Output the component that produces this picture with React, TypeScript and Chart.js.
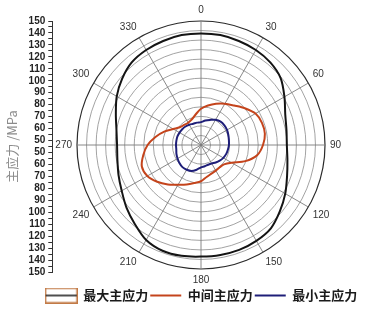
import React, { useEffect, useRef } from 'react';
import { Chart, registerables } from 'chart.js';

Chart.register(...registerables);

// angle categories (degrees, clockwise from top)
const angleLabels = [
  '0', '10', '20', '30', '40', '50', '60', '70', '80', '90', '100', '110',
  '120', '130', '140', '150', '160', '170', '180', '190', '200', '210', '220', '230',
  '240', '250', '260', '270', '280', '290', '300', '310', '320', '330', '340', '350',
];

// series values (MPa)
const maxStress = [
  117, 117, 116, 115, 113, 109, 101, 94, 91, 90, 92, 96,
  102, 108, 114, 116, 117, 117, 117, 118, 118, 115, 108, 102,
  96, 92, 89, 88, 90, 95, 102, 108, 113, 115, 116, 117,
];
const midStress = [
  38, 42, 46, 50, 54, 60, 66, 68, 68, 65, 60, 49.5,
  37, 31.5, 30.5, 31, 32, 34, 38, 40.5, 44, 48, 54, 60,
  65, 66, 61.5, 56, 48.5, 41, 33.5, 29, 27.5, 27, 28.5, 32.5,
];
const minStress = [
  24, 26, 28, 30.5, 32, 32, 31.5, 30.5, 29.7, 29.3, 28.6, 28,
  27, 25.6, 24, 22.4, 22, 22.6, 23.5, 26.3, 29, 30, 30.3, 29.5,
  28.4, 27.4, 26.3, 26.2, 26.2, 26.3, 26, 25.7, 25.3, 24.5, 23.7, 23.8,
];

// left axis tick labels (top to bottom)
const yAxisLabels = [
  '150', '140', '130', '120', '110', '100', '90', '80', '70', '60', '50',
  '50', '60', '70', '80', '90', '100', '110', '120', '130', '140', '150',
];

const seriesNames = ['最大主应力', '中间主应力', '最小主应力'];
const seriesColors = ['#141414', '#c4441c', '#1e1e78'];
const axisTitle = '主应力 /MPa';

const R_MAX = 130;
const R_STEP = 10;

function makeBoxSymbol(): HTMLCanvasElement {
  const c = document.createElement('canvas');
  c.width = 33;
  c.height = 16;
  const g = c.getContext('2d')!;
  g.fillStyle = '#ffffff';
  g.fillRect(0, 0, 33, 16);
  g.strokeStyle = '#c27a46';
  g.lineWidth = 1.5;
  g.strokeRect(0.75, 0.75, 31.5, 14.5);
  g.strokeStyle = '#141414';
  g.lineWidth = 1.5;
  g.beginPath();
  g.moveTo(1, 8);
  g.lineTo(32, 8);
  g.stroke();
  return c;
}

export default function App() {
  const radarRef = useRef<HTMLCanvasElement | null>(null);
  const axisRef = useRef<HTMLCanvasElement | null>(null);

  useEffect(() => {
    if (!radarRef.current || !axisRef.current) return;
    const boxSymbol = makeBoxSymbol();
    const sansFont = '"Liberation Sans", Arial, sans-serif';
    const cjkFont = '"Noto Sans CJK SC", "Noto Sans", sans-serif';

    const radar = new Chart(radarRef.current, {
      type: 'radar',
      data: {
        labels: angleLabels,
        datasets: [maxStress, midStress, minStress].map((d, i) => ({
          label: seriesNames[i],
          data: d,
          borderColor: seriesColors[i],
          backgroundColor: 'transparent',
          borderWidth: 2,
          pointRadius: 0,
          pointHoverRadius: 0,
          fill: false,
          tension: 0.3,
        })),
      },
      options: {
        animation: false,
        responsive: true,
        maintainAspectRatio: false,
        events: [],
        layout: { padding: { left: 37, right: 0, top: 4, bottom: 0 } },
        plugins: {
          tooltip: { enabled: false },
          legend: {
            position: 'bottom',
            labels: {
              usePointStyle: true,
              pointStyleWidth: 31,
              padding: 2,
              color: '#1a1a1a',
              font: { family: cjkFont, size: 13, weight: 'bold' },
              generateLabels: (chart: any) =>
                chart.data.datasets.map((ds: any, i: number) => ({
                  text: ds.label,
                  fillStyle: '#ffffff',
                  strokeStyle: ds.borderColor,
                  lineWidth: 2,
                  pointStyle: i === 0 ? boxSymbol : 'line',
                  hidden: false,
                  datasetIndex: i,
                  fontColor: '#1a1a1a',
                })),
            },
          },
        },
        scales: {
          r: {
            min: 0,
            max: R_MAX,
            beginAtZero: true,
            ticks: { display: false, stepSize: R_STEP },
            grid: {
              circular: true,
              color: (c: any) => (c.tick && c.tick.value === R_MAX ? '#2a2a2a' : '#8c8c8c'),
              lineWidth: (c: any) => (c.tick && c.tick.value === R_MAX ? 1.2 : 0.8),
            },
            angleLines: {
              color: '#7c7c7c',
              lineWidth: (c: any) => (c.index % 3 === 0 ? 0.9 : 0),
            },
            pointLabels: {
              padding: 5,
              color: '#333333',
              font: { family: sansFont, size: 10 },
              callback: (label: string, index: number) => (index % 3 === 0 ? label : ''),
            },
          },
        },
      } as any,
    });

    const axis = new Chart(axisRef.current, {
      type: 'scatter',
      data: { datasets: [] },
      options: {
        animation: false,
        responsive: true,
        maintainAspectRatio: false,
        events: [],
        layout: { padding: { left: 0, right: 0, top: 21, bottom: 40 } },
        plugins: { legend: { display: false }, tooltip: { enabled: false } },
        scales: {
          x: { display: false, min: 0, max: 1 },
          y: {
            position: 'left',
            min: 0,
            max: yAxisLabels.length - 1,
            reverse: true,
            ticks: {
              stepSize: 0.5,
              autoSkip: false,
              padding: 3,
              color: '#222222',
              font: { family: sansFont, size: 10, weight: 'bold' },
              callback: (v: any) => (Number.isInteger(v) ? yAxisLabels[v] : ''),
            },
            grid: {
              display: true,
              drawOnChartArea: false,
              drawTicks: true,
              tickLength: 4,
              tickColor: '#333333',
              tickWidth: 1,
            },
            border: { display: true, color: '#333333', width: 1 },
            title: {
              display: true,
              text: axisTitle,
              color: '#8c8c8c',
              font: { family: cjkFont, size: 13 },
              padding: { top: 4, bottom: 6 },
            },
          },
        },
      } as any,
    });

    return () => {
      radar.destroy();
      axis.destroy();
    };
  }, []);

  return (
    <div style={{ position: 'fixed', left: 0, top: 0, width: 366, height: 312, background: '#ffffff' }}>
      <div style={{ position: 'absolute', left: 0, top: 0, width: 366, height: 312 }}>
        <canvas ref={radarRef} />
      </div>
      <div style={{ position: 'absolute', left: 0, top: 0, width: 366, height: 312, pointerEvents: 'none' }}>
        <canvas ref={axisRef} />
      </div>
    </div>
  );
}
